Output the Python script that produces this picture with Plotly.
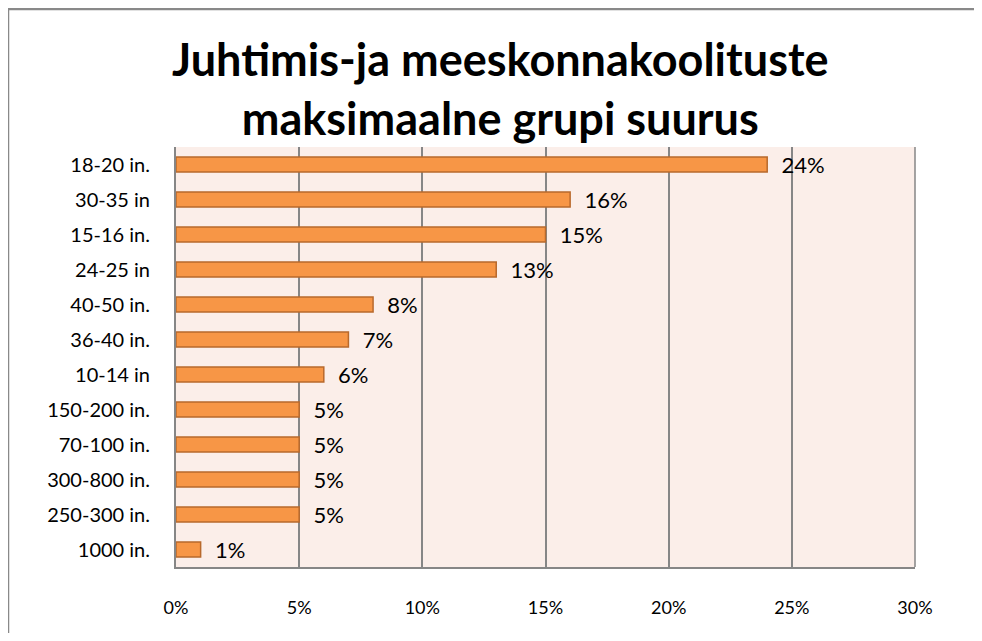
import plotly.graph_objects as go

categories = ["18-20 in.", "30-35 in", "15-16 in.", "24-25 in", "40-50 in.", "36-40 in.",
              "10-14 in", "150-200 in.", "70-100 in.", "300-800 in.", "250-300 in.", "1000 in."]
values = [0.24, 0.16, 0.15, 0.13, 0.08, 0.07, 0.06, 0.05, 0.05, 0.05, 0.05, 0.01]
tick_vals = [0, 0.05, 0.10, 0.15, 0.20, 0.25, 0.30]
tick_text = ["0%", "5%", "10%", "15%", "20%", "25%", "30%"]
title_text = "Juhtimis-ja meeskonnakoolituste<br>maksimaalne grupi suurus"

W, H = 974, 625
ML, MR, MT, MB = 168, 67, 139, 66
FONT = "Lato, Carlito, Calibri, sans-serif"
pw, ph = W - ML - MR, H - MT - MB

fig = go.Figure(go.Bar(
    x=values, y=categories, orientation="h",
    marker=dict(color="#F79646", line=dict(color="#B8692C", width=1.5)),
    width=0.43,
    texttemplate="  %{x:.0%}", textposition="outside",
    textfont=dict(size=22, color="#000000", family=FONT),
    constraintext="none",
    cliponaxis=False,
))

fig.update_layout(
    width=W, height=H,
    margin=dict(l=ML, r=MR, t=MT, b=MB),
    paper_bgcolor="white", plot_bgcolor="#FBEEE9",
    font=dict(family=FONT, color="#000000"),
    showlegend=False,
    xaxis=dict(range=[0, 0.30], tickvals=tick_vals, ticktext=tick_text,
               showgrid=True, gridcolor="#868686", gridwidth=1.5,
               showline=True, linecolor="#868686", linewidth=1.5, mirror=False,
               zeroline=False, ticks="", tickfont=dict(size=18), ticklabelstandoff=24,
               fixedrange=True),
    yaxis=dict(autorange="reversed", showgrid=False, showline=True, linecolor="#868686",
               linewidth=2, ticks="", tickfont=dict(size=20), ticklabelstandoff=20,
               fixedrange=True),
    annotations=[
        dict(text="<b>" + title_text + "</b>", xref="paper", yref="paper",
             x=(492 - ML) / pw, y=1 + (MT - 80) / ph, xanchor="center", yanchor="middle",
             showarrow=False, align="center",
             font=dict(size=45, family=FONT, color="#000000")),
    ],
    shapes=[
        # chart frame: top and left edges
        dict(type="line", xref="paper", yref="paper",
             x0=(0 - ML) / pw, x1=(W - ML) / pw, y0=1 + (MT - 1) / ph, y1=1 + (MT - 1) / ph,
             line=dict(color="#898989", width=2.5)),
        dict(type="line", xref="paper", yref="paper",
             x0=(0 - ML) / pw, x1=(0 - ML) / pw, y0=-MB / ph, y1=1 + (MT - 1) / ph,
             line=dict(color="#898989", width=2.5)),
        # right border of plot area
        dict(type="line", xref="paper", yref="paper", x0=1, x1=1, y0=0, y1=1,
             line=dict(color="#868686", width=1.5)),
    ],
)

fig.write_html(
    "out.html",
    config={"displayModeBar": False},
    post_script="document.documentElement.style.overflow='hidden';"
                "document.body.style.overflow='hidden';",
)
